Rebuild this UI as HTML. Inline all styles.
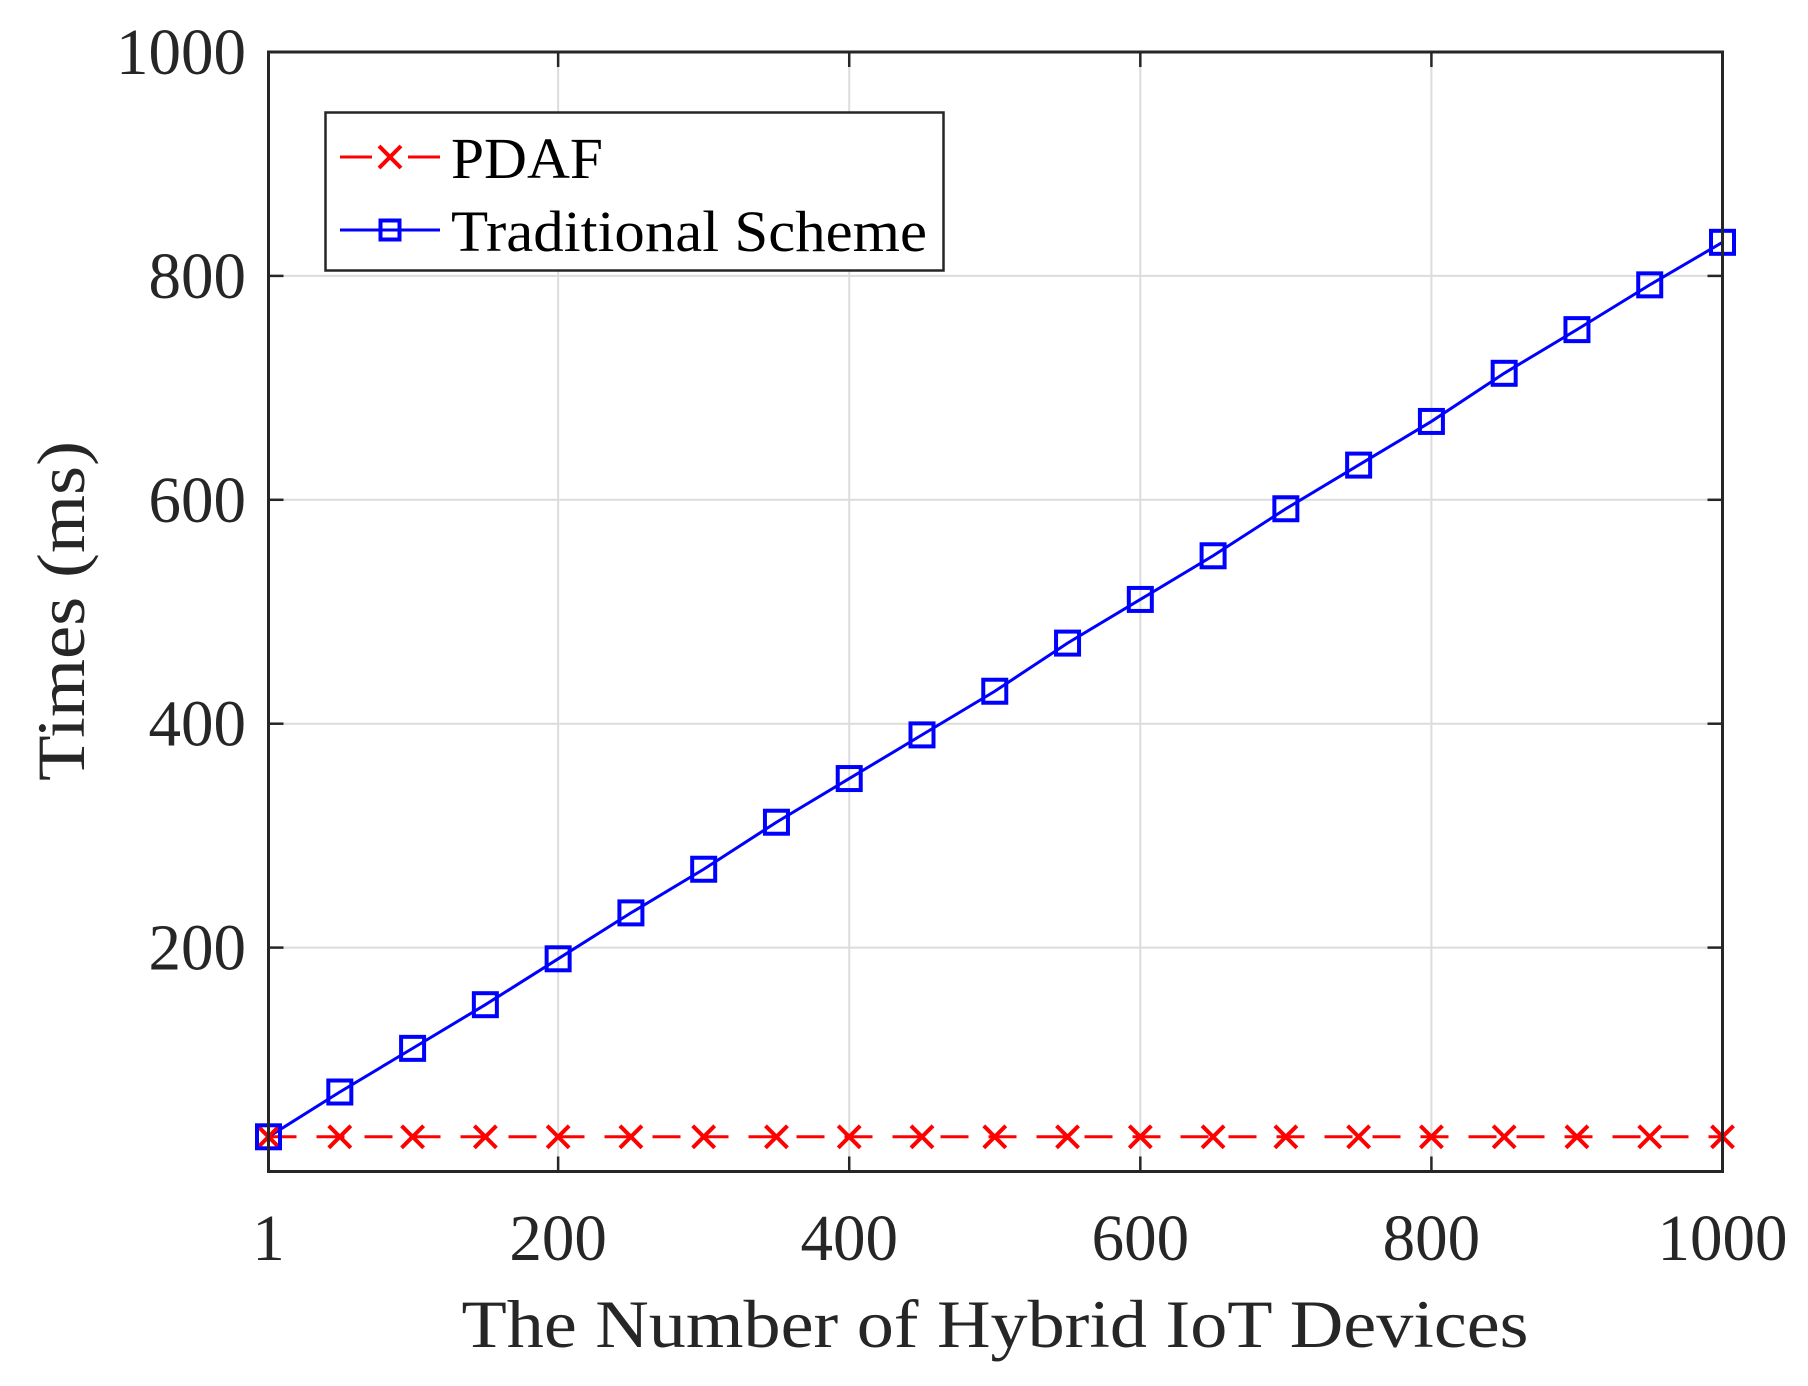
<!DOCTYPE html>
<html><head><meta charset="utf-8"><style>html,body{margin:0;padding:0;background:#fff}svg{display:block}</style></head>
<body>
<svg id="chart" width="1808" height="1386" viewBox="0 0 1808 1386" xmlns="http://www.w3.org/2000/svg" font-family="'Liberation Serif', serif">
<g id="grid"></g>
<g id="series"></g>
<g id="axes"></g>
</svg>
<script>
const xCats = [1,50,100,150,200,250,300,350,400,450,500,550,600,650,700,750,800,850,900,950,1000];
const pdafVals = [31,31,31,31,31,31,31,31,31,31,31,31,31,31,31,31,31,31,31,31,31];
const tradVals = [31,71,110,149,190,231,270,312,351,390,429,472,511,550,592,631,670,713,752,792,830];
const xTicks = [1,200,400,600,800,1000];
const xTickLabels = ['1','200','400','600','800','1000'];
const yTicks = [200,400,600,800,1000];
const yTickLabels = ['200','400','600','800','1000'];

const L=268.5,R=1722.5,T=52,B=1171.5;
const xMin=1,xMax=1000,yMin=0,yMax=1000;
const sx=v=>L+(v-xMin)/(xMax-xMin)*(R-L);
const sy=v=>B-(v-yMin)/(yMax-yMin)*(B-T);
const NS='http://www.w3.org/2000/svg';
function mk(tag,attrs,parent){const e=document.createElementNS(NS,tag);for(const k in attrs)e.setAttribute(k,attrs[k]);parent.appendChild(e);return e;}
const grid=document.getElementById('grid'),series=document.getElementById('series'),axes=document.getElementById('axes');

xTicks.forEach((v,i)=>{
  if(i>0&&i<xTicks.length-1){const g=mk('line',{x1:sx(v),x2:sx(v),y1:T,y2:B,stroke:'#dcdcdc','stroke-width':2},grid);
  
  }
  const lab=xTickLabels[i];
  const t=mk('text',{x:sx(v),y:1260,'text-anchor':'middle','font-size':66,fill:'#262626',textLength:lab.length*32.5,lengthAdjust:'spacingAndGlyphs'},axes);
  t.textContent=lab;
  
  
  [[B,B-15],[T,T+15]].forEach(p=>{const k=mk('line',{x1:sx(v),x2:sx(v),y1:p[0],y2:p[1],stroke:'#262626','stroke-width':2.5},axes);
  
  });
});
yTicks.forEach((v,i)=>{
  if(v<yMax){const g=mk('line',{x1:L,x2:R,y1:sy(v),y2:sy(v),stroke:'#dcdcdc','stroke-width':2},grid);
  
  }
  const lab=yTickLabels[i];
  const t=mk('text',{x:246,y:sy(v)+22,'text-anchor':'end','font-size':66,fill:'#262626',textLength:lab.length*32.5,lengthAdjust:'spacingAndGlyphs'},axes);
  t.textContent=lab;
  
  
  [[L,L+15],[R,R-15]].forEach(p=>{const k=mk('line',{x1:p[0],x2:p[1],y1:sy(v),y2:sy(v),stroke:'#262626','stroke-width':2.5},axes);
  
  });
});
const box=mk('rect',{x:L,y:T,width:R-L,height:B-T,fill:'none',stroke:'#262626','stroke-width':3},axes);



function xMark(cx,cy,s,par){return mk('path',{d:`M${cx-s} ${cy-s}L${cx+s} ${cy+s}M${cx-s} ${cy+s}L${cx+s} ${cy-s}`,stroke:'#ff0000','stroke-width':4,fill:'none'},par);}
function sqMark(cx,cy,s,par){return mk('rect',{x:cx-s,y:cy-s,width:2*s,height:2*s,fill:'none',stroke:'#0000ff','stroke-width':4},par);}

const pd=mk('polyline',{points:xCats.map((x,i)=>sx(x)+','+sy(pdafVals[i])).join(' '),fill:'none',stroke:'#ff0000','stroke-width':3,'stroke-dasharray':'28,20'},series);


const tr=mk('polyline',{points:xCats.map((x,i)=>sx(x)+','+sy(tradVals[i])).join(' '),fill:'none',stroke:'#0000ff','stroke-width':3},series);


xCats.forEach((x,i)=>{
  const m=xMark(sx(x),sy(pdafVals[i]),11,series);
  
  
  const q=sqMark(sx(x),sy(tradVals[i]),11.5,series);
  
  
});

const lg=mk('g',{},axes);


mk('rect',{x:325.5,y:112.5,width:618,height:158,fill:'#fff',stroke:'#262626','stroke-width':2.5},lg);
const e1=mk('g',{},lg);


mk('path',{d:'M340 157H372M408 157H440',stroke:'#ff0000','stroke-width':3},e1);
xMark(390,157,11,e1);
const t1=mk('text',{x:451,y:178,'font-size':58,fill:'#000',textLength:152,lengthAdjust:'spacingAndGlyphs'},e1);t1.textContent='PDAF';
const e2=mk('g',{},lg);


mk('line',{x1:340,x2:440,y1:230,y2:230,stroke:'#0000ff','stroke-width':3},e2);
sqMark(390,230,9.5,e2);
const t2=mk('text',{x:451,y:251,'font-size':58,fill:'#000',textLength:476,lengthAdjust:'spacingAndGlyphs'},e2);t2.textContent='Traditional Scheme';

const xt=mk('text',{x:995,y:1347,'text-anchor':'middle','font-size':68,fill:'#262626',textLength:1067,lengthAdjust:'spacingAndGlyphs'},axes);
xt.textContent='The Number of Hybrid IoT Devices';


const yt=mk('text',{x:0,y:0,'text-anchor':'middle','font-size':68,fill:'#262626',transform:'translate(84,611) rotate(-90)',textLength:340,lengthAdjust:'spacingAndGlyphs'},axes);
yt.textContent='Times (ms)';


</script>
</body></html>
